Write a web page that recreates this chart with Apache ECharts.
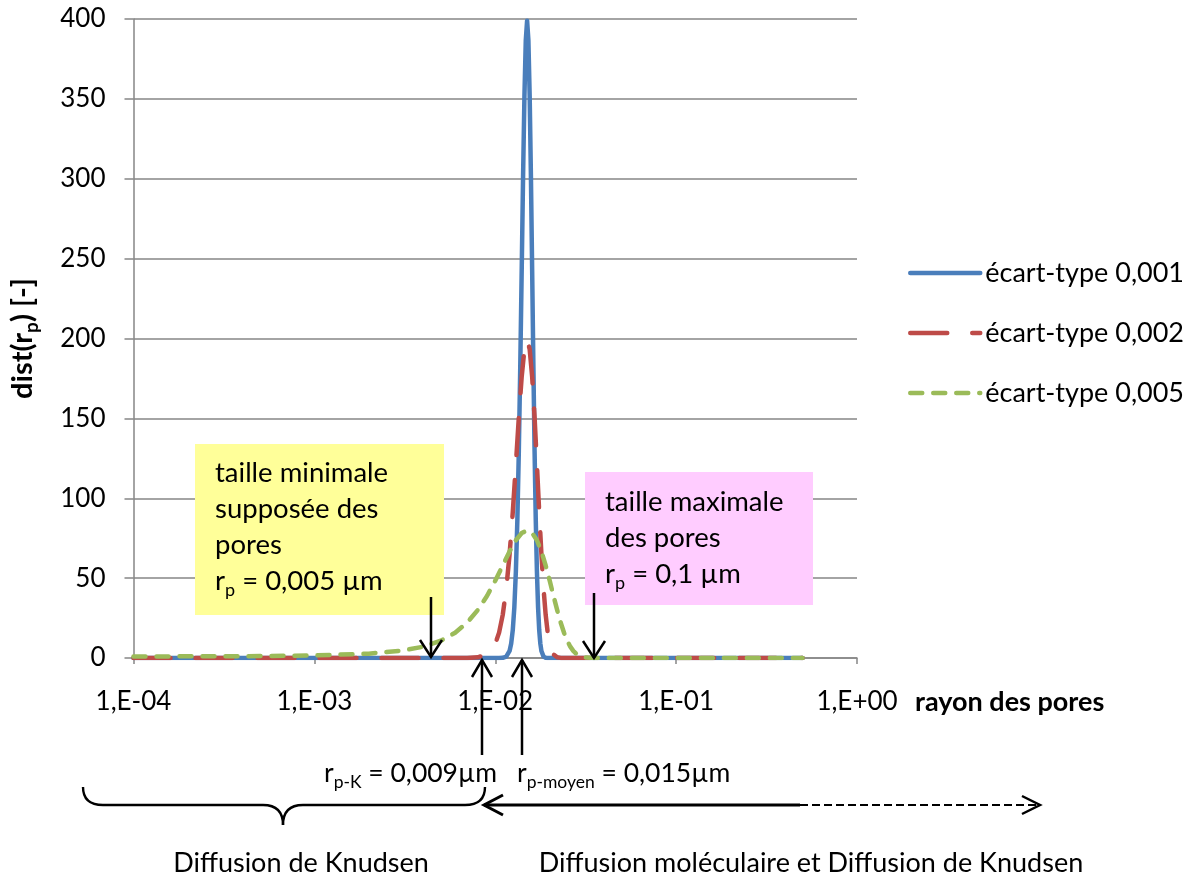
<!DOCTYPE html>
<html>
<head>
<meta charset="utf-8">
<script src="https://cdn.jsdelivr.net/npm/echarts@6/dist/echarts.min.js"></script>
<style>
html,body{margin:0;padding:0;background:#fff;}
#chart{width:1184px;height:876px;}
</style>
</head>
<body>
<div id="chart"></div>
<script>
// ---- data ----
const seriesNames = ['écart-type 0,001', 'écart-type 0,002', 'écart-type 0,005'];
const xTickLabels = ['1,E-04', '1,E-03', '1,E-02', '1,E-01', '1,E+00'];

const blueR = [0.0001, 0.001, 0.005, 0.01, 0.0105, 0.011, 0.0115, 0.012, 0.01225, 0.0125, 0.01275, 0.013, 0.01325, 0.0135, 0.01375, 0.014, 0.01425, 0.0145, 0.01475, 0.015, 0.01525, 0.0155, 0.01575, 0.016, 0.01625, 0.0165, 0.01675, 0.017, 0.01725, 0.0175, 0.01775, 0.018, 0.0185, 0.019, 0.0195, 0.02, 0.05, 0.1, 0.5];
const blueV = [0, 0, 0, 0, 0.02, 0.13, 0.87, 4.4, 9.1, 17.5, 31.7, 54.0, 86.3, 129.5, 182.6, 242.0, 301.1, 352.0, 386.6, 398.9, 386.6, 352.0, 301.1, 242.0, 182.6, 129.5, 86.3, 54.0, 31.7, 17.5, 9.1, 4.4, 0.87, 0.13, 0.02, 0, 0, 0, 0];

const redR = [0.0001, 0.001, 0.005, 0.007, 0.008, 0.009, 0.0095, 0.01, 0.0105, 0.011, 0.0115, 0.012, 0.0125, 0.013, 0.0135, 0.014, 0.0145, 0.015, 0.0155, 0.016, 0.0165, 0.017, 0.0175, 0.018, 0.0185, 0.019, 0.0195, 0.02, 0.0205, 0.021, 0.022, 0.023, 0.025, 0.05, 0.1, 0.5];
const redV = [0, 0, 0, 0.07, 0.44, 2.2, 4.6, 8.8, 15.9, 27.0, 43.2, 64.8, 91.3, 121.0, 150.6, 176.0, 193.3, 199.5, 193.3, 176.0, 150.6, 121.0, 91.3, 64.8, 43.2, 27.0, 15.9, 8.8, 4.6, 2.2, 0.44, 0.07, 0, 0, 0, 0];

const greenR = [0.0001, 0.0005, 0.001, 0.002, 0.003, 0.004, 0.005, 0.006, 0.007, 0.008, 0.009, 0.01, 0.011, 0.012, 0.013, 0.014, 0.015, 0.016, 0.017, 0.018, 0.019, 0.02, 0.021, 0.022, 0.023, 0.024, 0.025, 0.026, 0.027, 0.028, 0.029, 0.03, 0.032, 0.035, 0.04, 0.1, 0.5];
const greenV = [0.94, 1.19, 1.58, 2.72, 4.48, 7.09, 10.8, 15.8, 22.2, 30.0, 38.8, 48.4, 57.9, 66.7, 73.7, 78.2, 79.8, 78.2, 73.7, 66.7, 57.9, 48.4, 38.8, 30.0, 22.2, 15.8, 10.8, 7.09, 4.48, 2.72, 1.58, 0.89, 0.25, 0.03, 0, 0, 0];

// ---- chart ----
const FONT = 'Lato';
const colors = ['#4A7EBB', '#BE4B48', '#9BBB59'];
const pairs = (rs, vs) => rs.map((r, i) => [r, vs[i]]);

const chart = echarts.init(document.getElementById('chart'));

const subRich = {
  n: { fontSize: 27.5, fontFamily: FONT, color: '#000', lineHeight: 36 },
  s: { fontSize: 18, fontFamily: FONT, color: '#000', lineHeight: 22, verticalAlign: 'bottom' }
};
const labRich = {
  n: { fontSize: 26.5, fontFamily: FONT, color: '#000', lineHeight: 36 },
  s: { fontSize: 17.5, fontFamily: FONT, color: '#000', lineHeight: 22, verticalAlign: 'bottom' }
};

function arrowDown(x, y1, y2) {
  return [
    { type: 'line', z: 20, shape: { x1: x, y1: y1, x2: x, y2: y2 }, style: { stroke: '#000', lineWidth: 2.5 } },
    { type: 'polyline', z: 20, shape: { points: [[x - 11, y2 - 17], [x, y2], [x + 11, y2 - 17]] }, style: { stroke: '#000', lineWidth: 2.5, fill: null } }
  ];
}
function arrowUp(x, y1, y2) {
  return [
    { type: 'line', z: 20, shape: { x1: x, y1: y1, x2: x, y2: y2 }, style: { stroke: '#000', lineWidth: 2.5 } },
    { type: 'polyline', z: 20, shape: { points: [[x - 10, y2 + 17], [x, y2], [x + 10, y2 + 17]] }, style: { stroke: '#000', lineWidth: 2.5, fill: null } }
  ];
}

const graphics = [
  // yellow annotation
  { type: 'rect', z: 1, shape: { x: 195, y: 444, width: 249, height: 171 }, style: { fill: '#FFFF99' } },
  { type: 'text', z: 21, style: { x: 215, y: 455, text: '{n|taille minimale}\n{n|supposée des}\n{n|pores}\n{n|r}{s|p}{n| = 0,005 µm}', rich: subRich, verticalAlign: 'top', align: 'left' } },
  // pink annotation
  { type: 'rect', z: 1, shape: { x: 585, y: 472, width: 228, height: 133 }, style: { fill: '#FFCCFF' } },
  { type: 'text', z: 21, style: { x: 605, y: 484, text: '{n|taille maximale}\n{n|des pores}\n{n|r}{s|p}{n| = 0,1 µm}', rich: subRich, verticalAlign: 'top', align: 'left' } },
  ...arrowDown(431, 597, 657),
  ...arrowDown(594, 593, 658),
  ...arrowUp(482, 755, 660),
  ...arrowUp(522, 755, 660),
  { type: 'text', z: 21, style: { x: 497, y: 773, text: '{n|r}{s|p-K}{n| = 0,009µm}', rich: labRich, align: 'right', verticalAlign: 'middle' } },
  { type: 'text', z: 21, style: { x: 517, y: 773, text: '{n|r}{s|p-moyen}{n| = 0,015µm}', rich: labRich, align: 'left', verticalAlign: 'middle' } },
  // brace
  { type: 'bezierCurve', z: 20, shape: { x1: 83, y1: 787, x2: 103, y2: 805, cpx1: 83, cpy1: 805 }, style: { stroke: '#000', lineWidth: 2.4, fill: null } },
  { type: 'line', z: 20, shape: { x1: 103, y1: 805, x2: 263, y2: 805 }, style: { stroke: '#000', lineWidth: 2.4 } },
  { type: 'bezierCurve', z: 20, shape: { x1: 263, y1: 805, x2: 283, y2: 825, cpx1: 283, cpy1: 805 }, style: { stroke: '#000', lineWidth: 2.4, fill: null } },
  { type: 'bezierCurve', z: 20, shape: { x1: 283, y1: 825, x2: 303, y2: 805, cpx1: 283, cpy1: 805 }, style: { stroke: '#000', lineWidth: 2.4, fill: null } },
  { type: 'line', z: 20, shape: { x1: 303, y1: 805, x2: 465, y2: 805 }, style: { stroke: '#000', lineWidth: 2.4 } },
  { type: 'bezierCurve', z: 20, shape: { x1: 465, y1: 805, x2: 485, y2: 787, cpx1: 485, cpy1: 805 }, style: { stroke: '#000', lineWidth: 2.4, fill: null } },
  // double arrow solid + dashed
  { type: 'line', z: 20, shape: { x1: 484, y1: 805, x2: 800, y2: 805 }, style: { stroke: '#000', lineWidth: 3 } },
  { type: 'polyline', z: 20, shape: { points: [[503, 795], [484, 805], [503, 815]] }, style: { stroke: '#000', lineWidth: 3, fill: null } },
  { type: 'line', z: 20, shape: { x1: 800, y1: 805, x2: 1038, y2: 805 }, style: { stroke: '#000', lineWidth: 2, lineDash: [8, 4] } },
  { type: 'polyline', z: 20, shape: { points: [[1022, 796], [1040, 805], [1022, 814]] }, style: { stroke: '#000', lineWidth: 2.5, fill: null } },
  // bottom captions
  { type: 'text', z: 21, style: { x: 301, y: 863, text: 'Diffusion de Knudsen', fontSize: 27, fontFamily: FONT, fill: '#000', align: 'center', verticalAlign: 'middle' } },
  { type: 'text', z: 21, style: { x: 811, y: 863, text: 'Diffusion moléculaire et Diffusion de Knudsen', fontSize: 27, fontFamily: FONT, fill: '#000', align: 'center', verticalAlign: 'middle' } }
];

const lineTypes = ['solid', [37, 25], [12, 11]];
const dataSets = [pairs(blueR, blueV), pairs(redR, redV), pairs(greenR, greenV)];

const option = {
  animation: false,
  backgroundColor: '#fff',
  grid: { left: 132, right: 327, top: 19, bottom: 218 },
  legend: {
    orient: 'vertical',
    left: 903,
    top: 253,
    itemWidth: 70,
    itemHeight: 12,
    itemGap: 30,
    data: seriesNames,
    lineStyle: { width: 4.5 },
    itemStyle: { opacity: 0 },
    textStyle: { fontSize: 27, lineHeight: 30, fontFamily: FONT, color: '#000' }
  },
  xAxis: {
    type: 'log',
    logBase: 10,
    min: 0.0001,
    max: 1,
    splitNumber: 4,
    name: 'rayon des pores',
    nameLocation: 'end',
    nameGap: 58,
    nameTextStyle: { fontSize: 27, fontWeight: 'bold', fontFamily: FONT, color: '#000', align: 'left', verticalAlign: 'top', padding: [31, 0, 0, 0] },
    axisLine: { show: true, lineStyle: { color: '#868686', width: 1.5 } },
    axisTick: { show: true, length: 6, lineStyle: { color: '#868686', width: 1.5 } },
    splitLine: { show: false },
    axisLabel: {
      margin: 31,
      fontSize: 26,
      fontFamily: FONT,
      color: '#000',
      formatter: v => {
        const e = Math.round(Math.log10(v));
        return xTickLabels[e + 4] || '';
      }
    }
  },
  yAxis: {
    type: 'value',
    min: 0,
    max: 400,
    interval: 50,
    name: '{b|dist(r}{s|p}{b|) [-]}',
    nameLocation: 'middle',
    nameRotate: 90,
    nameGap: 92,
    nameTextStyle: {
      rich: {
        b: { fontSize: 29, fontWeight: 'bold', fontFamily: FONT, color: '#000', lineHeight: 38 },
        s: { fontSize: 19, fontWeight: 'bold', fontFamily: FONT, color: '#000', lineHeight: 24, verticalAlign: 'bottom' }
      }
    },
    axisLine: { show: true, lineStyle: { color: '#868686', width: 1.5 } },
    axisTick: { show: true, length: 9, lineStyle: { color: '#868686', width: 1.5 } },
    splitLine: { show: true, lineStyle: { color: '#868686', width: 1.5 } },
    axisLabel: { margin: 28, fontSize: 26, fontFamily: FONT, color: '#000' }
  },
  series: seriesNames.map((name, i) => ({
    name: name,
    type: 'line',
    data: dataSets[i],
    symbol: 'none',
    smooth: false,
    z: 2 + i,
    color: colors[i],
    lineStyle: { color: colors[i], width: 4.5, type: lineTypes[i], cap: 'round', join: 'round' }
  })),
  graphic: graphics
};

chart.setOption(option);
</script>
</body>
</html>
